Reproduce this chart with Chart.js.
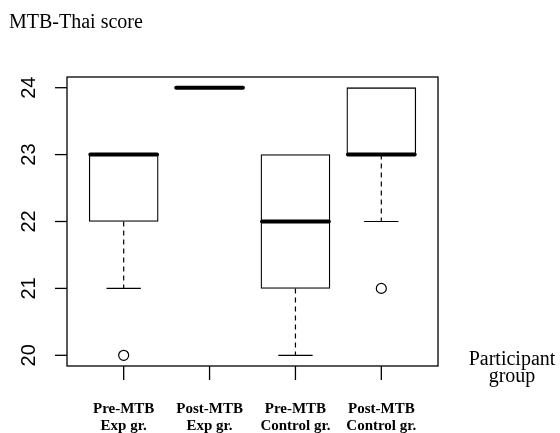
<!DOCTYPE html>
<html>
<head>
<meta charset="utf-8">
<script src="https://cdn.jsdelivr.net/npm/chart.js@4"></script>
<style>
  html, body { margin: 0; padding: 0; background: #fff; }
  #wrap { width: 560px; height: 433px; }
</style>
</head>
<body>
<div id="wrap"><canvas id="box-chart" width="560" height="433"></canvas></div>
<script>
// groups along the x axis (two text lines each)
const groupLines = [
    ['Pre-MTB', 'Exp gr.'],
    ['Post-MTB', 'Exp gr.'],
    ['Pre-MTB', 'Control gr.'],
    ['Post-MTB', 'Control gr.']
];
// five-number summaries
const lowWhisker = [21, 24, 20, 22];
const q1 = [22, 24, 21, 23];
const median = [23, 24, 22, 23];
const q3 = [23, 24, 23, 24];
const highWhisker = [23, 24, 23, 24];
// outliers: [group, value]
const outliers = [[1, 20], [4, 21]];
const yTicks = [20, 21, 22, 23, 24];

const serif = '"Liberation Serif", "Times New Roman", serif';
const sans = '"Liberation Sans", Arial, sans-serif';

// whiskers, medians, frame, axes and texts drawn R-style
const rBoxPlot = {
    id: 'rBoxPlot',
    afterDatasetsDraw(chart) {
        const ctx = chart.ctx;
        const xs = chart.scales.x, ys = chart.scales.y;
        const area = chart.chartArea;
        const unit = xs.getPixelForValue(1) - xs.getPixelForValue(0);
        const halfBox = unit * 0.4;
        const halfCap = unit * 0.2;

        ctx.save();
        ctx.strokeStyle = '#000';

        for (let i = 0; i < q1.length; i++) {
            const cx = xs.getPixelForValue(i + 1);
            // dashed whiskers
            ctx.lineWidth = 1.2;
            ctx.setLineDash([5, 4]);
            ctx.beginPath();
            if (lowWhisker[i] < q1[i]) {
                ctx.moveTo(cx, ys.getPixelForValue(q1[i]));
                ctx.lineTo(cx, ys.getPixelForValue(lowWhisker[i]));
            }
            if (highWhisker[i] > q3[i]) {
                ctx.moveTo(cx, ys.getPixelForValue(q3[i]));
                ctx.lineTo(cx, ys.getPixelForValue(highWhisker[i]));
            }
            ctx.stroke();
            ctx.setLineDash([]);
            // caps
            ctx.beginPath();
            if (lowWhisker[i] < q1[i]) {
                const py = ys.getPixelForValue(lowWhisker[i]);
                ctx.moveTo(cx - halfCap, py);
                ctx.lineTo(cx + halfCap, py);
            }
            if (highWhisker[i] > q3[i]) {
                const py = ys.getPixelForValue(highWhisker[i]);
                ctx.moveTo(cx - halfCap, py);
                ctx.lineTo(cx + halfCap, py);
            }
            ctx.stroke();
            // thick median
            ctx.lineWidth = 4;
            ctx.lineCap = 'round';
            const my = ys.getPixelForValue(median[i]);
            ctx.beginPath();
            ctx.moveTo(cx - halfBox + 1, my);
            ctx.lineTo(cx + halfBox - 1, my);
            ctx.stroke();
            ctx.lineCap = 'butt';
        }

        // frame
        ctx.lineWidth = 1.3;
        ctx.strokeRect(area.left, area.top, area.right - area.left, area.bottom - area.top);

        // y axis ticks + rotated labels
        ctx.fillStyle = '#000';
        ctx.font = '20px ' + sans;
        ctx.textAlign = 'center';
        ctx.textBaseline = 'alphabetic';
        yTicks.forEach(v => {
            const py = ys.getPixelForValue(v);
            ctx.beginPath();
            ctx.moveTo(area.left - 12, py);
            ctx.lineTo(area.left, py);
            ctx.stroke();
            ctx.save();
            ctx.translate(35, py);
            ctx.rotate(-Math.PI / 2);
            ctx.fillText(String(v), 0, 0);
            ctx.restore();
        });

        // x axis ticks + two-line bold labels
        ctx.font = 'bold 15px ' + serif;
        ctx.textBaseline = 'middle';
        groupLines.forEach((lines, i) => {
            const px = xs.getPixelForValue(i + 1);
            ctx.beginPath();
            ctx.moveTo(px, area.bottom);
            ctx.lineTo(px, area.bottom + 14);
            ctx.stroke();
            ctx.fillText(lines[0], px, 409);
            ctx.fillText(lines[1], px, 426);
        });

        // axis titles
        ctx.font = '20px ' + serif;
        ctx.textAlign = 'left';
        ctx.fillText('MTB-Thai score', 9, 23);
        ctx.textAlign = 'center';
        ctx.fillText('Participant', 512, 360);
        ctx.fillText('group', 512, 377);
        ctx.restore();
    }
};

const ctx = document.getElementById('box-chart').getContext('2d');
new Chart(ctx, {
    type: 'bar',
    data: {
        datasets: [{
            label: 'box',
            data: q1.map((v, i) => ({ x: i + 1, y: [v, q3[i]] })),
            backgroundColor: '#ffffff',
            borderColor: '#000000',
            borderWidth: 1.3,
            borderSkipped: false,
            barThickness: 69
        }, {
            type: 'scatter',
            label: 'outliers',
            data: outliers.map(o => ({ x: o[0], y: o[1] })),
            pointStyle: 'circle',
            pointRadius: 5,
            pointBackgroundColor: '#ffffff',
            pointBorderColor: '#000000',
            pointBorderWidth: 1.2
        }]
    },
    options: {
        responsive: false,
        animation: false,
        layout: { padding: { left: 67, top: 77, right: 122, bottom: 67 } },
        scales: {
            x: { type: 'linear', min: 0.34, max: 4.66, offset: false, display: false },
            y: { type: 'linear', min: 19.84, max: 24.16, display: false }
        },
        plugins: {
            legend: { display: false },
            tooltip: { enabled: false }
        }
    },
    plugins: [rBoxPlot]
});
</script>
</body>
</html>
